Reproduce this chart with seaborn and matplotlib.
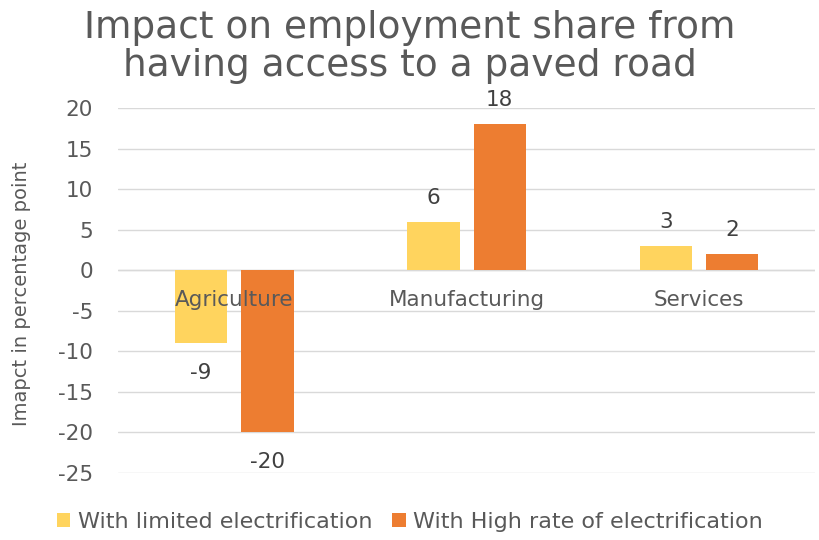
import matplotlib
matplotlib.use("Agg")
import matplotlib.pyplot as plt
import seaborn as sns
import pandas as pd

categories = ["Agriculture", "Manufacturing", "Services"]
limited = [-9, 6, 3]
high = [-20, 18, 2]
series_names = ["With limited electrification", "With High rate of electrification"]
colors = ["#FFD45E", "#ED7D31"]

df = pd.DataFrame({
    "Sector": categories * 2,
    "Value": limited + high,
    "Series": [series_names[0]] * 3 + [series_names[1]] * 3,
})

sns.set_theme(style="white")
plt.rcParams["font.family"] = ["DejaVu Sans"]
plt.rcParams["axes.unicode_minus"] = False

fig = plt.figure(figsize=(8.2, 5.4), dpi=100)
ax = fig.add_axes([0.144, 0.124, 0.85, 0.676])

sns.barplot(data=df, x="Sector", y="Value", hue="Series", palette=colors,
            width=0.57, gap=0.21, saturation=1, linewidth=0, ax=ax, legend=True)

ax.set_ylim(-25, 20)
ax.set_yticks(range(-25, 21, 5))
ax.yaxis.grid(True, color="#D9D9D9", linewidth=1)
ax.set_axisbelow(True)
for s in ["left", "right", "top", "bottom"]:
    ax.spines[s].set_visible(False)
ax.axhline(0, color="#D9D9D9", linewidth=1, zorder=0)
ax.set_xticks(range(len(categories)))
ax.set_xticklabels([])
ax.tick_params(axis="x", length=0)
for i, cat in enumerate(categories):
    ax.text(i, -3.7, cat, ha="center", va="center", fontsize=15.5,
            color="#595959", zorder=10)
ax.tick_params(axis="y", length=0, pad=18, labelsize=15.5, labelcolor="#595959")
ax.set_xlabel("")
ax.set_ylabel("Imapct in percentage point", fontsize=14, color="#595959")
ax.yaxis.set_label_coords(-0.125, 0.49)

for c in ax.containers:
    labels = ax.bar_label(c, padding=10, fontsize=15.5, color="#404040")
    for t, bar in zip(labels, c):
        if bar.get_height() < 0:
            t.xyann = (t.xyann[0], t.xyann[1] - 4)

ax.legend(loc="center", bbox_to_anchor=(0.5, 0.034), ncol=2, frameon=False,
          fontsize=16, handlelength=0.6, handleheight=0.6, handletextpad=0.35,
          columnspacing=0.9, labelcolor="#595959", bbox_transform=fig.transFigure)

fig.text(0.5, 0.982, "Impact on employment share from\nhaving access to a paved road",
         ha="center", va="top", fontsize=27, color="#595959", linespacing=1.08,
         family=["DejaVu Sans"])

fig.savefig("out.png", dpi=100)
